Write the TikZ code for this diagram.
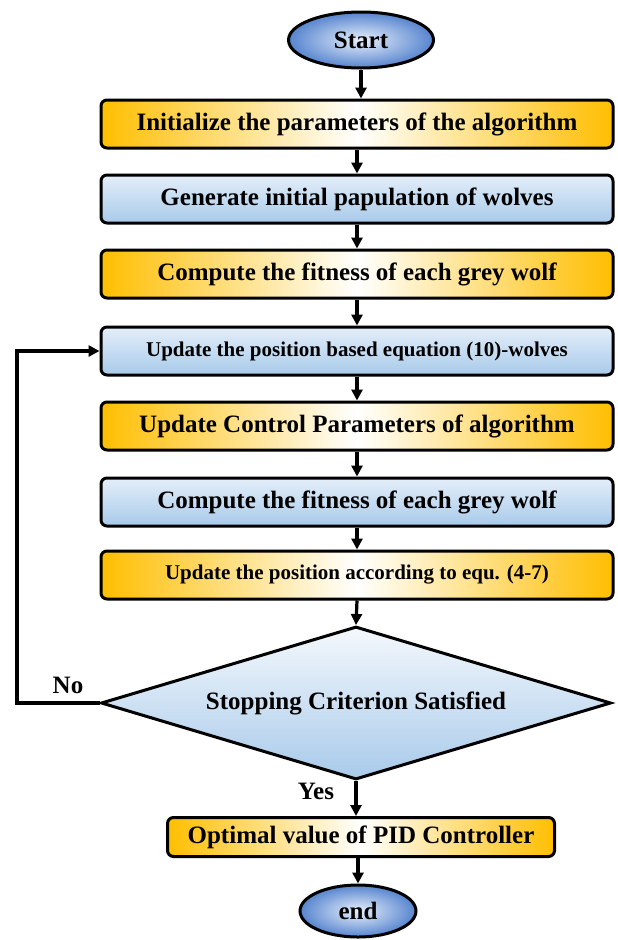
\documentclass[tikz,border=0pt]{standalone}
\usepackage{fontspec}
\setmainfont{Liberation Serif}
\usetikzlibrary{arrows.meta,shapes.geometric}
\definecolor{gold}{RGB}{255,190,0}
\definecolor{bluetop}{RGB}{228,238,249}
\definecolor{bluebot}{RGB}{168,202,234}
\definecolor{ovalout}{RGB}{86,132,206}
\definecolor{ovalin}{RGB}{232,240,252}

\tikzset{
  base/.style={draw=black, line width=3pt, inner sep=0pt,
    font=\fontsize{25}{30}\selectfont\bfseries},
  smalltext/.style={font=\fontsize{21}{25}\selectfont\bfseries},
  goldbox/.style={base, rectangle, rounded corners=6pt,
    minimum width=512pt, minimum height=48pt,
    left color=gold, right color=gold, middle color=white},
  bluebox/.style={base, rectangle, rounded corners=6pt,
    minimum width=512pt, minimum height=48pt,
    top color=bluetop, bottom color=bluebot},
  oval/.style={base, ellipse, inner color=ovalin, outer color=ovalout},
  decision/.style={base, diamond, aspect=3.33,
    minimum width=510pt, minimum height=153pt,
    top color=white!60!bluetop, bottom color=bluebot},
  flowarrow/.style={draw=black, line width=3.2pt, line cap=butt,
    -{Triangle[length=11pt,width=11pt]}},
  lbl/.style={inner sep=0pt, font=\fontsize{25}{30}\selectfont\bfseries}
}

\begin{document}
\begin{tikzpicture}[x=1pt,y=-1pt]
\useasboundingbox (0,0) rectangle (618,940);

% terminals, process steps and the decision
\node[oval, minimum width=145pt, minimum height=56pt] (start) at (361,40) {Start};
\node[goldbox] (init)  at (357,124) {Initialize the parameters of the algorithm};
\node[bluebox] (gen)   at (357,199) {Generate initial papulation of wolves};
\node[goldbox] (fit1)  at (357,274) {Compute the fitness of each grey wolf};
\node[bluebox, smalltext] (upd1) at (357,351) {Update the position based equation (10)-wolves};
\node[goldbox] (ctrl)  at (357,426) {Update Control Parameters of algorithm};
\node[bluebox] (fit2)  at (357,502) {Compute the fitness of each grey wolf};
\node[goldbox, smalltext] (upd2) at (357,575) {Update the position according to equ. (4-7)};
\node[decision] (stop) at (356,703) {Stopping Criterion Satisfied};
\node[goldbox, minimum width=387pt, minimum height=39pt] (opt) at (361,837) {Optimal value of PID Controller};
\node[oval, minimum width=116pt, minimum height=52pt] (end) at (358,911) {end};

% main flow
\draw[flowarrow] (start) -- (start |- init.north);
\draw[flowarrow] (init.south) -- (gen.north);
\draw[flowarrow] (gen.south) -- (fit1.north);
\draw[flowarrow] (fit1.south) -- (upd1.north);
\draw[flowarrow] (upd1.south) -- (ctrl.north);
\draw[flowarrow] (ctrl.south) -- (fit2.north);
\draw[flowarrow] (fit2.south) -- (upd2.north);
\draw[flowarrow] (upd2.south) -- (stop.north);
\draw[flowarrow] (stop.south) -- (stop.south |- opt.north);
\draw[flowarrow] (end |- opt.south) -- (end);

% loop back when the criterion is not met
\coordinate (loop) at (17,703);
\draw[flowarrow] (stop.west) -- (loop) |- (upd1.west);

\node[lbl] (no)  at (68,685) {No};
\node[lbl] (yes) at (316,791) {Yes};
\end{tikzpicture}
\end{document}
